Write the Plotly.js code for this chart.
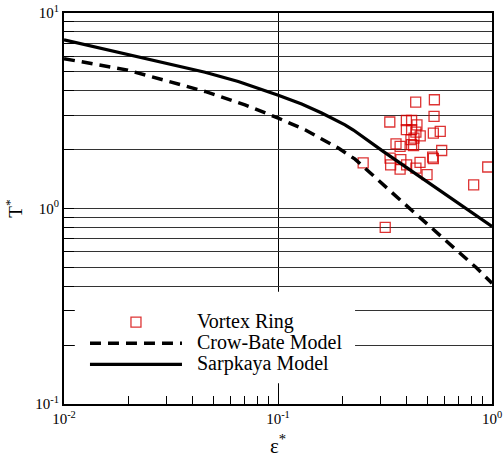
<!DOCTYPE html>
<html>
<head>
<meta charset="utf-8">
<script src="https://cdn.plot.ly/plotly-3.0.1.min.js"></script>
<style>html,body{margin:0;padding:0;background:#fff;}#chart{width:503px;height:463px;}</style>
</head>
<body>
<div id="chart"></div>
<script>
// Vortex ring measurements (epsilon*, T*)
var ringEps = [0.440, 0.538, 0.536, 0.333, 0.398, 0.421, 0.446, 0.398, 0.441, 0.462, 0.532, 0.573,
               0.418, 0.432, 0.421, 0.356, 0.372, 0.582, 0.250, 0.334, 0.336, 0.375, 0.372, 0.399,
               0.441, 0.461, 0.528, 0.532, 0.497, 0.821, 0.955, 0.317, 0.421, 0.430];
var ringT   = [3.50, 3.60, 2.96, 2.77, 2.82, 2.82, 2.68, 2.53, 2.46, 2.35, 2.43, 2.48,
               2.25, 2.29, 2.12, 2.14, 2.08, 1.98, 1.71, 1.81, 1.67, 1.78, 1.59, 1.67,
               1.61, 1.72, 1.83, 1.80, 1.49, 1.32, 1.63, 0.80, 2.53, 2.10];

// Crow-Bate model
var crowEps = [0.01, 0.0196, 0.0456, 0.0701, 0.1003, 0.1337, 0.1913, 0.229, 0.3715, 0.513, 0.848, 1.0];
var crowT   = [5.84, 5.12, 3.97, 3.39, 2.90, 2.527, 2.037, 1.789, 1.108, 0.81, 0.496, 0.415];

// Sarpkaya model
var sarpEps = [0.01, 0.0215, 0.0456, 0.0652, 0.1003, 0.129, 0.160, 0.2056, 0.225, 0.31, 0.46, 1.0];
var sarpT   = [7.29, 6.04, 4.98, 4.46, 3.80, 3.42, 3.08, 2.68, 2.52, 1.96, 1.46, 0.81];

var xMajor = [0.01, 0.1, 1];
var xMajorText = ['10<sup>-2</sup>', '10<sup>-1</sup>', '10<sup>0</sup>'];
var xMinor = [0.02,0.03,0.04,0.05,0.06,0.07,0.08,0.09,0.2,0.3,0.4,0.5,0.6,0.7,0.8,0.9];
var yTicks = [0.1,0.2,0.3,0.4,0.5,0.6,0.7,0.8,0.9,1,2,3,4,5,6,7,8,9,10];
var yTickText = ['10<sup>-1</sup>','','','','','','','','','10<sup>0</sup>','','','','','','','','','10<sup>1</sup>'];

var legendNames = ['Vortex Ring', 'Crow-Bate Model', 'Sarpkaya Model'];
function lg(s){ return '<span style="font-size:20px">&#160;&#160;' + s + '</span>'; }

var FONT = 'Liberation Serif';

var traces = [
  {x: ringEps, y: ringT, type: 'scatter', mode: 'markers', name: lg(legendNames[0]),
   marker: {symbol: 'square-open', size: 10, color: 'rgba(212,0,0,0.8)', line: {width: 1.3}}},
  {x: crowEps, y: crowT, type: 'scatter', mode: 'lines', name: lg(legendNames[1]),
   line: {color: '#000', width: 3.5, dash: '11px,7px'}},
  {x: sarpEps, y: sarpT, type: 'scatter', mode: 'lines', name: lg(legendNames[2]),
   line: {color: '#000', width: 3.2}}
];

var layout = {
  width: 503, height: 463,
  margin: {l: 64, r: 11, t: 13, b: 59},
  paper_bgcolor: '#fff', plot_bgcolor: '#fff',
  font: {family: FONT, color: '#000', size: 15},
  showlegend: true,
  legend: {x: 0.049, y: 0.2495, xanchor: 'left', yanchor: 'top', bgcolor: 'rgba(0,0,0,0)',
           borderwidth: 0, itemwidth: 92, font: {family: FONT, size: 14, color: '#000'}},
  shapes: [{type: 'rect', xref: 'paper', yref: 'paper', x0: 0.0257, x1: 0.68, y0: 0.053, y1: 0.287,
            fillcolor: '#fff', line: {width: 0}, layer: 'above'}],
  xaxis: {type: 'log', range: [-2, 0], showline: true, mirror: true, linewidth: 2, linecolor: '#000',
          tickmode: 'array', tickvals: xMajor, ticktext: xMajorText, ticks: 'inside', ticklen: 12,
          tickcolor: '#000', showgrid: true, gridcolor: '#000', gridwidth: 1, zeroline: false,
          tickfont: {family: FONT, size: 15},
          minor: {tickmode: 'array', tickvals: xMinor, ticks: 'inside', ticklen: 8, tickcolor: '#000', showgrid: false},
          title: {text: '&#949;<sup>*</sup>', font: {family: FONT, size: 21}, standoff: 12}, automargin: false},
  yaxis: {type: 'log', range: [-1, 1], showline: true, mirror: true, linewidth: 2, linecolor: '#000',
          tickmode: 'array', tickvals: yTicks, ticktext: yTickText, ticks: 'inside', ticklen: 10,
          tickcolor: '#000', showgrid: true, gridcolor: '#333', gridwidth: 1, zeroline: false,
          tickfont: {family: FONT, size: 15},
          title: {text: 'T<sup>*</sup>', font: {family: FONT, size: 19}, standoff: 8}, automargin: false}
};

Plotly.newPlot('chart', traces, layout, {displayModeBar: false, staticPlot: true});
</script>
</body>
</html>
